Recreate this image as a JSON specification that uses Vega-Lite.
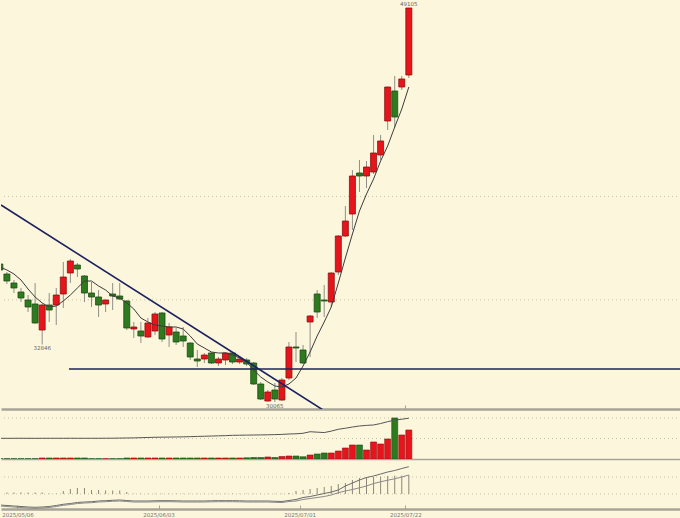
{
  "$schema": "https://vega.github.io/schema/vega-lite/v6.json",
  "background": "#fcf6dc",
  "padding": 0,
  "spacing": 0,
  "config": {
    "view": {"stroke": null},
    "concat": {"spacing": 0},
    "scale": {"continuousPadding": 0},
    "axis": {"labelFont": "DejaVu Sans"}
  },
  "datasets": {
    "k": [
      {"i":1,"d":"2025/05/01","o":36733,"h":36830,"l":36347,"c":36444,"ma":36589,"v":150,"vm":10100,"ta":-110,"tb":-120,"th":15},
      {"i":2,"d":"2025/05/02","o":36250,"h":36347,"l":35767,"c":35912,"ma":36444,"v":150,"vm":10080,"ta":-115,"tb":-125,"th":15},
      {"i":3,"d":"2025/05/05","o":35815,"h":35960,"l":35332,"c":35574,"ma":36250,"v":150,"vm":10100,"ta":-120,"tb":-130,"th":15},
      {"i":4,"d":"2025/05/06","o":35381,"h":35574,"l":34897,"c":35091,"ma":35960,"v":150,"vm":10120,"ta":-125,"tb":-135,"th":15},
      {"i":5,"d":"2025/05/07","o":34994,"h":35236,"l":34414,"c":34656,"ma":35525,"v":150,"vm":10100,"ta":-130,"tb":-140,"th":15},
      {"i":6,"d":"2025/05/08","o":34801,"h":35815,"l":33850,"c":33883,"ma":35139,"v":150,"vm":10090,"ta":-133,"tb":-143,"th":15},
      {"i":7,"d":"2025/05/09","o":33544,"h":34801,"l":32846,"c":34752,"ma":34849,"v":490,"vm":10100,"ta":-130,"tb":-140,"th":15},
      {"i":8,"d":"2025/05/12","o":34752,"h":35332,"l":33931,"c":34511,"ma":34656,"v":490,"vm":10110,"ta":-125,"tb":-135,"th":5},
      {"i":9,"d":"2025/05/13","o":34752,"h":35574,"l":33786,"c":35236,"ma":34704,"v":490,"vm":10100,"ta":-115,"tb":-125,"th":5},
      {"i":10,"d":"2025/05/14","o":35284,"h":36830,"l":34607,"c":36105,"ma":34946,"v":490,"vm":10100,"ta":-103,"tb":-113,"th":30},
      {"i":11,"d":"2025/05/15","o":36299,"h":36975,"l":35815,"c":36878,"ma":35236,"v":490,"vm":10120,"ta":-95,"tb":-105,"th":50},
      {"i":12,"d":"2025/05/16","o":36685,"h":36782,"l":36105,"c":36492,"ma":35574,"v":490,"vm":10100,"ta":-85,"tb":-95,"th":60},
      {"i":13,"d":"2025/05/19","o":36154,"h":36202,"l":34897,"c":35332,"ma":35912,"v":490,"vm":10100,"ta":-80,"tb":-90,"th":60},
      {"i":14,"d":"2025/05/20","o":35332,"h":35864,"l":34656,"c":35139,"ma":35912,"v":150,"vm":10110,"ta":-77,"tb":-87,"th":40},
      {"i":15,"d":"2025/05/21","o":35139,"h":35477,"l":34172,"c":34752,"ma":35670,"v":150,"vm":10100,"ta":-70,"tb":-80,"th":40},
      {"i":16,"d":"2025/05/22","o":34801,"h":35010,"l":34414,"c":34994,"ma":35477,"v":150,"vm":10130,"ta":-67,"tb":-77,"th":35},
      {"i":17,"d":"2025/05/23","o":35284,"h":35815,"l":34511,"c":35187,"ma":35187,"v":150,"vm":10150,"ta":-63,"tb":-73,"th":35},
      {"i":18,"d":"2025/05/26","o":35187,"h":35815,"l":34994,"c":35042,"ma":35091,"v":150,"vm":10200,"ta":-60,"tb":-70,"th":35},
      {"i":19,"d":"2025/05/27","o":34946,"h":34994,"l":33544,"c":33641,"ma":34849,"v":490,"vm":10250,"ta":-65,"tb":-75,"th":20},
      {"i":20,"d":"2025/05/28","o":33593,"h":33931,"l":33158,"c":33689,"ma":34559,"v":490,"vm":10300,"ta":-70,"tb":-80,"th":4},
      {"i":21,"d":"2025/05/29","o":33496,"h":33931,"l":32916,"c":33254,"ma":34124,"v":490,"vm":10400,"ta":-70,"tb":-80,"th":4},
      {"i":22,"d":"2025/05/30","o":33206,"h":34124,"l":33158,"c":33883,"ma":33931,"v":490,"vm":10500,"ta":-70,"tb":-80,"th":4},
      {"i":23,"d":"2025/06/02","o":33496,"h":34414,"l":33303,"c":34318,"ma":33786,"v":490,"vm":10600,"ta":-68,"tb":-78,"th":4},
      {"i":24,"d":"2025/06/03","o":34366,"h":34414,"l":32965,"c":33110,"ma":33738,"v":490,"vm":10650,"ta":-67,"tb":-77,"th":4},
      {"i":25,"d":"2025/06/04","o":33303,"h":33883,"l":32723,"c":33689,"ma":33689,"v":490,"vm":10700,"ta":-67,"tb":-77,"th":4},
      {"i":26,"d":"2025/06/05","o":33448,"h":33641,"l":32820,"c":32965,"ma":33689,"v":490,"vm":10750,"ta":-68,"tb":-78,"th":4},
      {"i":27,"d":"2025/06/06","o":33254,"h":33689,"l":32723,"c":33013,"ma":33593,"v":490,"vm":10800,"ta":-70,"tb":-80,"th":4},
      {"i":28,"d":"2025/06/09","o":32916,"h":32950,"l":32095,"c":32240,"ma":33254,"v":490,"vm":10900,"ta":-70,"tb":-80,"th":4},
      {"i":29,"d":"2025/06/10","o":32143,"h":32578,"l":31756,"c":32046,"ma":32868,"v":490,"vm":11000,"ta":-70,"tb":-80,"th":4},
      {"i":30,"d":"2025/06/11","o":32143,"h":32433,"l":31950,"c":32336,"ma":32675,"v":490,"vm":11100,"ta":-70,"tb":-80,"th":4},
      {"i":31,"d":"2025/06/12","o":32433,"h":32481,"l":31901,"c":31950,"ma":32481,"v":490,"vm":11200,"ta":-68,"tb":-78,"th":4},
      {"i":32,"d":"2025/06/13","o":31950,"h":32240,"l":31805,"c":32143,"ma":32433,"v":490,"vm":11300,"ta":-67,"tb":-77,"th":4},
      {"i":33,"d":"2025/06/16","o":32095,"h":32481,"l":31853,"c":32433,"ma":32433,"v":490,"vm":11400,"ta":-67,"tb":-77,"th":4},
      {"i":34,"d":"2025/06/17","o":32433,"h":32481,"l":31901,"c":31998,"ma":32336,"v":490,"vm":11550,"ta":-67,"tb":-77,"th":4},
      {"i":35,"d":"2025/06/18","o":31998,"h":32240,"l":31901,"c":32143,"ma":32191,"v":490,"vm":11600,"ta":-68,"tb":-78,"th":4},
      {"i":36,"d":"2025/06/19","o":32095,"h":32191,"l":31805,"c":31901,"ma":31998,"v":590,"vm":11650,"ta":-70,"tb":-80,"th":4},
      {"i":37,"d":"2025/06/20","o":31950,"h":31998,"l":30887,"c":30935,"ma":31612,"v":730,"vm":11700,"ta":-70,"tb":-80,"th":4},
      {"i":38,"d":"2025/06/23","o":30935,"h":31032,"l":30162,"c":30210,"ma":31273,"v":730,"vm":11750,"ta":-70,"tb":-80,"th":4},
      {"i":39,"d":"2025/06/24","o":30113,"h":30645,"l":30090,"c":30548,"ma":31032,"v":980,"vm":11800,"ta":-70,"tb":-80,"th":4},
      {"i":40,"d":"2025/06/25","o":30645,"h":30983,"l":30065,"c":30210,"ma":30838,"v":730,"vm":11900,"ta":-73,"tb":-83,"th":4},
      {"i":41,"d":"2025/06/26","o":30162,"h":31225,"l":30113,"c":31128,"ma":30790,"v":1220,"vm":12000,"ta":-75,"tb":-85,"th":4},
      {"i":42,"d":"2025/06/27","o":31225,"h":32965,"l":31128,"c":32723,"ma":30935,"v":1460,"vm":12200,"ta":-65,"tb":-75,"th":10},
      {"i":43,"d":"2025/06/30","o":32723,"h":33448,"l":31998,"c":32675,"ma":31225,"v":1460,"vm":12300,"ta":-55,"tb":-70,"th":30},
      {"i":44,"d":"2025/07/01","o":32578,"h":32820,"l":31901,"c":31950,"ma":31805,"v":1100,"vm":12550,"ta":-35,"tb":-55,"th":40},
      {"i":45,"d":"2025/07/02","o":33931,"h":34269,"l":32240,"c":34221,"ma":32481,"v":1950,"vm":13300,"ta":-25,"tb":-45,"th":50},
      {"i":46,"d":"2025/07/03","o":35284,"h":35477,"l":34124,"c":34414,"ma":33254,"v":2440,"vm":13100,"ta":-10,"tb":-35,"th":60},
      {"i":47,"d":"2025/07/04","o":34994,"h":35719,"l":34172,"c":34946,"ma":33931,"v":2930,"vm":12900,"ta":5,"tb":-25,"th":70},
      {"i":48,"d":"2025/07/07","o":34897,"h":36330,"l":34656,"c":36299,"ma":34656,"v":2930,"vm":13600,"ta":20,"tb":-10,"th":80},
      {"i":49,"d":"2025/07/08","o":36347,"h":38135,"l":36202,"c":38086,"ma":35815,"v":3900,"vm":14500,"ta":40,"tb":13,"th":100},
      {"i":50,"d":"2025/07/09","o":38086,"h":39536,"l":38038,"c":38811,"ma":37023,"v":5370,"vm":15000,"ta":80,"tb":30,"th":110},
      {"i":51,"d":"2025/07/10","o":39149,"h":41276,"l":38376,"c":40986,"ma":38183,"v":6830,"vm":15600,"ta":110,"tb":45,"th":140},
      {"i":52,"d":"2025/07/11","o":41131,"h":41759,"l":40213,"c":40986,"ma":39294,"v":6830,"vm":16100,"ta":140,"tb":62,"th":160},
      {"i":53,"d":"2025/07/14","o":40986,"h":41710,"l":40406,"c":41421,"ma":40116,"v":4390,"vm":16400,"ta":165,"tb":80,"th":170},
      {"i":54,"d":"2025/07/15","o":41179,"h":42967,"l":41082,"c":42097,"ma":40841,"v":8300,"vm":16600,"ta":180,"tb":105,"th":170},
      {"i":55,"d":"2025/07/16","o":42000,"h":42967,"l":41759,"c":42677,"ma":41710,"v":7320,"vm":17300,"ta":200,"tb":122,"th":173},
      {"i":56,"d":"2025/07/17","o":43643,"h":45300,"l":43208,"c":45286,"ma":42435,"v":9760,"vm":18200,"ta":220,"tb":138,"th":180},
      {"i":57,"d":"2025/07/18","o":45093,"h":45818,"l":43305,"c":43837,"ma":43354,"v":20000,"vm":19000,"ta":235,"tb":152,"th":183},
      {"i":58,"d":"2025/07/21","o":45286,"h":45818,"l":45141,"c":45673,"ma":44221,"v":11700,"vm":19400,"ta":255,"tb":170,"th":183},
      {"i":59,"d":"2025/07/22","o":45866,"h":49105,"l":45721,"c":49103,"ma":45286,"v":14150,"vm":19900,"ta":273,"tb":190,"th":190}
    ],
    "lbl": [
      {"i":7,"p":32846,"t":"32846","pos":"low"},
      {"i":40,"p":30065,"t":"30065","pos":"low"},
      {"i":59,"p":49105,"t":"49105","pos":"high"}
    ],
    "lines": [
      {"x1":1.163,"p1":39584,"x2":46.84,"p2":29680},
      {"x1":10.8,"p1":31660,"x2":97.6,"p2":31660}
    ],
    "grid": [
      {"panel":"price","g":35000},
      {"panel":"price","g":40000},
      {"panel":"vol","g":10000},
      {"panel":"vol","g":20000},
      {"panel":"ind","g":0},
      {"panel":"ind","g":170}
    ]
  },
  "vconcat": [
    {
      "width": 680,
      "height": 409,
      "layer": [
        {
          "data": {"name": "grid"},
          "transform": [{"filter": "datum.panel == 'price'"}],
          "mark": {"type": "rule", "color": "#c9c2a6", "strokeWidth": 1, "strokeDash": [1, 3]},
          "encoding": {
            "y": {"field": "g", "type": "quantitative", "scale": {"domain": [29727, 49490], "nice": false, "zero": false, "padding": 0}, "axis": null}
          }
        },
        {
          "data": {"name": "k"},
          "mark": {"type": "rule", "clip": true, "color": "#8f8f88", "strokeWidth": 1},
          "encoding": {
            "x": {"field": "i", "type": "quantitative", "scale": {"domain": [1.163, 97.6], "nice": false, "zero": false, "padding": 0},
                  "axis": {"title": null, "labels": false, "grid": false, "ticks": true, "tickSize": -4, "tickColor": "#a7a597", "values": [58.5], "domain": true, "domainColor": "#a7a597", "domainWidth": 2.5}},
            "y": {"field": "l", "type": "quantitative", "axis": null},
            "y2": {"field": "h"}
          }
        },
        {
          "data": {"name": "k"},
          "mark": {"type": "bar", "clip": true, "size": 6, "strokeWidth": 0.8},
          "encoding": {
            "x": {"field": "i", "type": "quantitative"},
            "y": {"field": "o", "type": "quantitative", "axis": null},
            "y2": {"field": "c"},
            "fill": {"condition": {"test": "datum.c >= datum.o", "value": "#e8141c"}, "value": "#2d7a1f"},
            "stroke": {"condition": {"test": "datum.c >= datum.o", "value": "#8a1010"}, "value": "#1d4d14"}
          }
        },
        {
          "data": {"name": "k"},
          "mark": {"type": "line", "clip": true, "color": "#3c3c3c", "strokeWidth": 1},
          "encoding": {
            "x": {"field": "i", "type": "quantitative"},
            "y": {"field": "ma", "type": "quantitative", "axis": null}
          }
        },
        {
          "data": {"name": "lines"},
          "mark": {"type": "rule", "clip": true, "color": "#1c2260", "strokeWidth": 1.6},
          "encoding": {
            "x": {"field": "x1", "type": "quantitative"},
            "x2": {"field": "x2"},
            "y": {"field": "p1", "type": "quantitative", "axis": null},
            "y2": {"field": "p2"}
          }
        },
        {
          "data": {"name": "lbl"},
          "transform": [{"filter": "datum.pos == 'low'"}],
          "mark": {"type": "text", "fontSize": 5.5, "color": "#666666", "baseline": "top", "dy": 2, "font": "DejaVu Sans"},
          "encoding": {
            "x": {"field": "i", "type": "quantitative"},
            "y": {"field": "p", "type": "quantitative", "axis": null},
            "text": {"field": "t"}
          }
        },
        {
          "data": {"name": "lbl"},
          "transform": [{"filter": "datum.pos == 'high'"}],
          "mark": {"type": "text", "fontSize": 5.5, "color": "#666666", "baseline": "bottom", "dy": -1, "font": "DejaVu Sans"},
          "encoding": {
            "x": {"field": "i", "type": "quantitative"},
            "y": {"field": "p", "type": "quantitative", "axis": null},
            "text": {"field": "t"}
          }
        }
      ]
    },
    {
      "width": 680,
      "height": 49,
      "layer": [
        {
          "data": {"name": "grid"},
          "transform": [{"filter": "datum.panel == 'vol'"}],
          "mark": {"type": "rule", "color": "#c9c2a6", "strokeWidth": 1, "strokeDash": [1, 3]},
          "encoding": {
            "y": {"field": "g", "type": "quantitative", "scale": {"domain": [0, 23900], "nice": false, "padding": 0}, "axis": null}
          }
        },
        {
          "data": {"name": "k"},
          "mark": {"type": "bar", "clip": true, "size": 6, "strokeWidth": 0.6},
          "encoding": {
            "x": {"field": "i", "type": "quantitative", "scale": {"domain": [1.163, 97.6], "nice": false, "zero": false, "padding": 0},
                  "axis": {"title": null, "labels": false, "ticks": false, "grid": false, "domain": true, "domainColor": "#a7a597", "domainWidth": 1.5}},
            "y": {"field": "v", "type": "quantitative", "axis": null},
            "fill": {"condition": {"test": "datum.c >= datum.o", "value": "#e8141c"}, "value": "#2d7a1f"},
            "stroke": {"condition": {"test": "datum.c >= datum.o", "value": "#8a1010"}, "value": "#1d4d14"}
          }
        },
        {
          "data": {"name": "k"},
          "mark": {"type": "line", "clip": true, "color": "#555555", "strokeWidth": 1},
          "encoding": {
            "x": {"field": "i", "type": "quantitative"},
            "y": {"field": "vm", "type": "quantitative", "axis": null}
          }
        }
      ]
    },
    {
      "width": 680,
      "height": 50,
      "layer": [
        {
          "data": {"name": "grid"},
          "transform": [{"filter": "datum.panel == 'ind'"}],
          "mark": {"type": "rule", "color": "#c9c2a6", "strokeWidth": 1, "strokeDash": [1, 3]},
          "encoding": {
            "y": {"field": "g", "type": "quantitative", "scale": {"domain": [-150, 350], "nice": false, "zero": false, "padding": 0}, "axis": null}
          }
        },
        {
          "data": {"name": "k"},
          "mark": {"type": "rule", "clip": true, "color": "#8e877a", "strokeWidth": 1},
          "encoding": {
            "x": {"field": "i", "type": "quantitative", "scale": {"domain": [1.163, 97.6], "nice": false, "zero": false, "padding": 0},
                  "axis": {"title": null, "values": [3.5, 23.5, 43.5, 58.5],
                           "labelExpr": "datum.value == 3.5 ? '2025/05/06' : datum.value == 23.5 ? '2025/06/03' : datum.value == 43.5 ? '2025/07/01' : '2025/07/22'",
                           "labelFontSize": 5.5, "labelColor": "#777777", "labelPadding": 7, "labelFlush": false,
                           "ticks": true, "tickSize": -4, "tickColor": "#a7a597",
                           "grid": false, "domain": true, "domainColor": "#a7a597", "domainWidth": 2.5}},
            "y": {"field": "th", "type": "quantitative", "axis": null},
            "y2": {"datum": 0}
          }
        },
        {
          "data": {"name": "k"},
          "mark": {"type": "line", "clip": true, "color": "#6a6a6a", "strokeWidth": 1},
          "encoding": {
            "x": {"field": "i", "type": "quantitative"},
            "y": {"field": "ta", "type": "quantitative", "axis": null}
          }
        },
        {
          "data": {"name": "k"},
          "mark": {"type": "line", "clip": true, "color": "#8a8a8a", "strokeWidth": 1},
          "encoding": {
            "x": {"field": "i", "type": "quantitative"},
            "y": {"field": "tb", "type": "quantitative", "axis": null}
          }
        }
      ]
    }
  ]
}
